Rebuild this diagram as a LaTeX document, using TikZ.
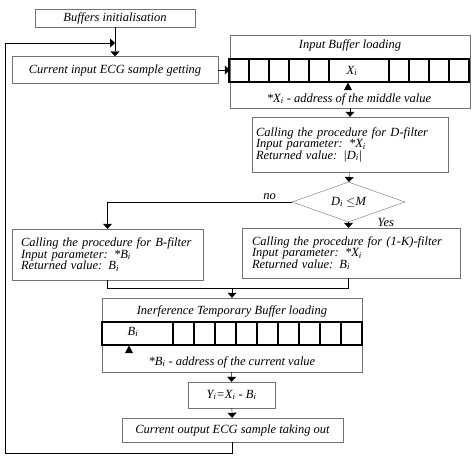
\documentclass[tikz,border=0pt]{standalone}
\usepackage{fontspec}
\setmainfont{Liberation Serif}
\usetikzlibrary{arrows.meta,shapes.geometric}

\begin{document}
\begin{tikzpicture}[x=1pt,y=-1pt,thin,font=\fontsize{12.5}{11.5}\selectfont\itshape]
      \tikzstyle{box}=[rectangle,draw=black!55,inner sep=0pt]
      \tikzstyle{proc}=[box,align=left,inner ysep=3pt]
      \tikzstyle{bufrow}=[draw=black,line width=1.1pt]
      \tikzstyle{ar}=[->,>={Triangle[length=5pt,width=9pt]}]
      \tikzstyle{ptr}=[fill=black]

      \useasboundingbox (0,0) rectangle (474,461);

      \node[box,minimum width=160pt,minimum height=18pt] (init) at (115,18)
           {Buffers initialisation};
      \node[box,minimum width=206pt,minimum height=27pt] (input) at (115,70)
           {Current input ECG sample getting};

      % input buffer
      \node[box,minimum width=240pt,minimum height=73pt] (inbuf) at (350,71.5) {};
      \node (inbuftitle) at (350,45) {Input Buffer loading};
      \draw[bufrow] (229,59) rectangle (469,82);
      \foreach \x in {249,269,289,309,329,389,409,429,449}
           \draw[bufrow] (\x,59) -- (\x,82);
      \node (xi) at (352,71) {X\textsubscript{i}};
      \fill[ptr] (348,82.5) -- (344,90) -- (352,90) -- cycle;
      \node (xinote) at (349,99) {*X\textsubscript{i} - address of the middle value};

      \node[proc,text width=188pt,inner xsep=4pt,minimum height=55pt] (dfilt) at (350,144.5)
           {Calling the procedure for D-filter\\
            Input parameter: *X\textsubscript{i}\\
            Returned value: |D\textsubscript{i}|};
      \node[diamond,draw=black!55,minimum width=113pt,minimum height=40pt,
            aspect=2.8,inner sep=0pt] (decide) at (348.5,202)
           {D\textsubscript{i} \ensuremath{\le}M};

      \node[proc,text width=173pt,inner xsep=9pt,minimum height=51pt] (bfilt) at (107.5,254.5)
           {Calling the procedure for B-filter\\
            Input parameter: *B\textsubscript{i}\\
            Returned value: B\textsubscript{i}};
      \node[proc,text width=198pt,inner xsep=10pt,minimum height=50pt] (kfilt) at (351,253)
           {Calling the procedure for (1-K)-filter\\
            Input parameter: *X\textsubscript{i}\\
            Returned value: B\textsubscript{i}};

      % interference buffer
      \node[box,minimum width=260pt,minimum height=74pt] (ibuf) at (232,335) {};
      \node (ibuftitle) at (232,311) {Inerference Temporary Buffer loading};
      \draw[bufrow] (102,322) rectangle (362,345);
      \foreach \x in {173,194,215,236,257,278,299,320,341}
           \draw[bufrow] (\x,322) -- (\x,345);
      \node (bi) at (133,332) {B\textsubscript{i}};
      \fill[ptr] (129,345.5) -- (125,353) -- (133,353) -- cycle;
      \node (binote) at (232,362) {*B\textsubscript{i} - address of the current value};

      \node[box,minimum width=87pt,minimum height=26pt] (ysub) at (231.5,395)
           {Y\textsubscript{i}=X\textsubscript{i} - B\textsubscript{i}};
      \node[box,minimum width=221pt,minimum height=24pt] (output) at (232.5,430)
           {Current output ECG sample taking out};

      \coordinate (join) at (115,43);
      \coordinate (merge) at (232,288);

      \draw[ar] (init) -- (input);
      \draw[ar] (input.east) -- (input.east -| inbuf.west);
      \draw[ar] (inbuf) -- (dfilt);
      \draw[ar] (dfilt) -- (decide);
      \draw[ar] (decide.west) -| node[pos=0.06,above,inner sep=2pt] {no} (bfilt.north);
      \draw[ar] (decide.south) -- (decide.south |- kfilt.north)
           node[pos=0,anchor=west,xshift=28pt,inner sep=1pt] {Yes};
      \draw (bfilt.south) |- (merge);
      \draw (decide.south |- kfilt.south) |- (merge);
      \draw[ar] (merge) -- (ibuf.north);
      \draw[ar] (ibuf) -- (ysub);
      \draw[ar] (ysub) -- (output);
      \draw[ar] (output.south) |- (5,453) |- (join);

    \end{tikzpicture}
\end{document}
